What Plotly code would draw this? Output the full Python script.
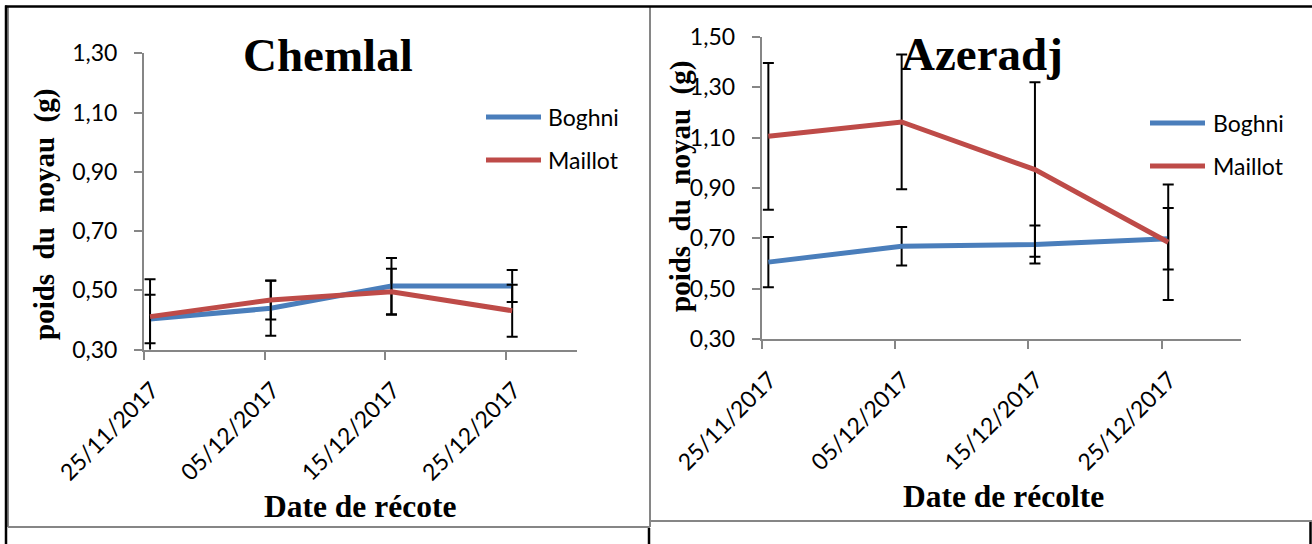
import plotly.graph_objects as go

# ---------------- data ----------------
dates = ["25/11/2017", "05/12/2017", "15/12/2017", "25/12/2017"]
series_names = ["Boghni", "Maillot"]

chemlal_boghni = [0.403, 0.439, 0.514, 0.514]
chemlal_boghni_err = [0.082, 0.093, 0.095, 0.054]
chemlal_maillot = [0.411, 0.467, 0.495, 0.431]
chemlal_maillot_err = [0.126, 0.066, 0.078, 0.088]

azeradj_boghni = [0.606, 0.669, 0.676, 0.699]
azeradj_boghni_err = [0.100, 0.076, 0.075, 0.122]
azeradj_maillot = [1.105, 1.162, 0.973, 0.685]
azeradj_maillot_err = [0.291, 0.267, 0.346, 0.229]

left_y_ticks = [0.30, 0.50, 0.70, 0.90, 1.10, 1.30]
left_y_labels = ["0,30", "0,50", "0,70", "0,90", "1,10", "1,30"]
right_y_ticks = [0.30, 0.50, 0.70, 0.90, 1.10, 1.30, 1.50]
right_y_labels = ["0,30", "0,50", "0,70", "0,90", "1,10", "1,30", "1,50"]

titles = ["Chemlal", "Azeradj"]
x_titles = ["Date de récote", "Date de récolte"]
y_title = "poids  du  noyau  (g)"

# ---------------- style ----------------
W, H = 1312, 544
BLUE = "#4A7EBB"
RED = "#BE4B48"
GRAY = "#868686"
SERIF = "Liberation Serif, Times New Roman, serif"
SANS = "Lato, Carlito, Calibri, sans-serif"
colors = [BLUE, RED]


def px(x):
    return x / W


def py(y):
    return 1 - y / H


idx = list(range(len(dates)))
tick_pos = [i - 0.05 for i in idx]

fig = go.Figure()

panels = [
    ("x", "y", [chemlal_boghni, chemlal_maillot], [chemlal_boghni_err, chemlal_maillot_err]),
    ("x2", "y2", [azeradj_boghni, azeradj_maillot], [azeradj_boghni_err, azeradj_maillot_err]),
]
for xa, ya, vals, errs in panels:
    for name, v, e, c in zip(series_names, vals, errs, colors):
        fig.add_trace(go.Scatter(
            x=idx, y=v, name=name, mode="lines",
            line=dict(color=c, width=5),
            error_y=dict(type="data", array=e, color="black", thickness=2, width=5.5),
            xaxis=xa, yaxis=ya, showlegend=False,
        ))

common_x = dict(
    tickmode="array", tickvals=tick_pos, ticktext=dates, tickangle=-45,
    ticks="outside", ticklen=8, tickwidth=2, tickcolor=GRAY, automargin=False,
    showline=True, linecolor=GRAY, linewidth=2, showgrid=False, zeroline=False,
    tickfont=dict(family=SANS, size=23, color="black"), ticklabelshift=8, ticklabelstandoff=8,
)
common_y = dict(
    tickmode="array", ticks="outside", ticklen=8, tickwidth=2, tickcolor=GRAY, automargin=False,
    showline=True, linecolor=GRAY, linewidth=2, showgrid=False, zeroline=False,
    tickfont=dict(family=SANS, size=23, color="black"), ticklabelstandoff=12,
)
# inner halves of the "cross" tick marks
inner_x = dict(tickmode="array", tickvals=tick_pos, ticks="inside", ticklen=7, tickwidth=2,
               tickcolor=GRAY, showticklabels=False, showline=False, showgrid=False,
               zeroline=False, automargin=False)
inner_y = dict(tickmode="array", ticks="inside", ticklen=4, tickwidth=2,
               tickcolor=GRAY, showticklabels=False, showline=False, showgrid=False,
               zeroline=False, automargin=False)

fig.update_layout(
    width=W, height=H,
    margin=dict(l=0, r=0, t=0, b=0, pad=0, autoexpand=False),
    showlegend=False,
    paper_bgcolor="white", plot_bgcolor="white",
    xaxis=dict(domain=[px(144), px(577)], range=[-0.05, 3.537], anchor="y", **common_x),
    yaxis=dict(domain=[py(349.5), py(53.3)], range=[0.30, 1.30], anchor="x",
               tickvals=left_y_ticks, ticktext=left_y_labels, **common_y),
    xaxis2=dict(domain=[px(761.7), px(1241)], range=[-0.05, 3.546], anchor="y2", **common_x),
    yaxis2=dict(domain=[py(339.3), py(36.7)], range=[0.30, 1.50], anchor="x2",
                tickvals=right_y_ticks, ticktext=right_y_labels, **common_y),
    xaxis3=dict(overlaying="x", anchor="y", range=[-0.05, 3.537], **inner_x),
    yaxis3=dict(overlaying="y", anchor="x", range=[0.30, 1.30], tickvals=left_y_ticks, **inner_y),
    xaxis4=dict(overlaying="x2", anchor="y2", range=[-0.05, 3.546], **inner_x),
    yaxis4=dict(overlaying="y2", anchor="x2", range=[0.30, 1.50], tickvals=right_y_ticks, **inner_y),
)

shapes = []
# chart frames (gray)
shapes.append(dict(type="line", xref="paper", yref="paper", x0=px(8), x1=px(8), y0=py(7), y1=py(527),
                   line=dict(color=GRAY, width=2)))
shapes.append(dict(type="line", xref="paper", yref="paper", x0=px(8), x1=px(650), y0=py(527), y1=py(527),
                   line=dict(color=GRAY, width=2)))
shapes.append(dict(type="line", xref="paper", yref="paper", x0=px(650), x1=px(650), y0=py(7), y1=py(527),
                   line=dict(color=GRAY, width=2)))
shapes.append(dict(type="line", xref="paper", yref="paper", x0=px(650), x1=px(1312), y0=py(521), y1=py(521),
                   line=dict(color=GRAY, width=2)))
# table borders (black)
shapes.append(dict(type="line", xref="paper", yref="paper", x0=px(5), x1=px(1312), y0=py(6.5), y1=py(6.5),
                   line=dict(color="black", width=2.5)))
shapes.append(dict(type="line", xref="paper", yref="paper", x0=px(6), x1=px(6), y0=py(5.5), y1=py(544),
                   line=dict(color="black", width=2.5)))
shapes.append(dict(type="line", xref="paper", yref="paper", x0=px(649), x1=px(649), y0=py(528), y1=py(544),
                   line=dict(color="black", width=2.5)))
shapes.append(dict(type="line", xref="paper", yref="paper", x0=px(1310.5), x1=px(1310.5), y0=py(522), y1=py(544),
                   line=dict(color="black", width=2.5)))

annotations = []
# legends (drawn manually to get the long line samples)
legend_pos = [((486, 541, 546), (117, 160)), ((1150, 1205, 1211), (123, 166))]
for (lx0, lx1, tx), ys in legend_pos:
    for name, c, yy in zip(series_names, colors, ys):
        shapes.append(dict(type="line", xref="paper", yref="paper", x0=px(lx0), x1=px(lx1),
                           y0=py(yy), y1=py(yy), line=dict(color=c, width=5)))
        annotations.append(dict(text=name, xref="paper", yref="paper", x=px(tx), y=py(yy),
                                xanchor="left", yanchor="middle", showarrow=False,
                                font=dict(family=SANS, size=23, color="black")))

# titles
for t, cx, cy in zip(titles, (328, 982), (55, 54)):
    annotations.append(dict(text="<b>%s</b>" % t, xref="paper", yref="paper", x=px(cx), y=py(cy),
                            xanchor="center", yanchor="middle", showarrow=False,
                            font=dict(family=SERIF, size=47, color="black")))
for t, cx, cy in zip(x_titles, (360, 1003), (506, 496)):
    annotations.append(dict(text="<b>%s</b>" % t, xref="paper", yref="paper", x=px(cx), y=py(cy),
                            xanchor="center", yanchor="middle", showarrow=False,
                            font=dict(family=SERIF, size=31.5, color="black")))
for cx, cy in ((44, 215), (680, 187)):
    annotations.append(dict(text="<b>%s</b>" % y_title, xref="paper", yref="paper", x=px(cx), y=py(cy),
                            xanchor="center", yanchor="middle", showarrow=False, textangle=-90,
                            font=dict(family=SERIF, size=29, color="black")))

fig.update_layout(shapes=shapes, annotations=annotations)
fig.write_html("out.html", config={"displayModeBar": False},
               post_script="document.body.style.margin='0';document.body.style.overflow='hidden';")
